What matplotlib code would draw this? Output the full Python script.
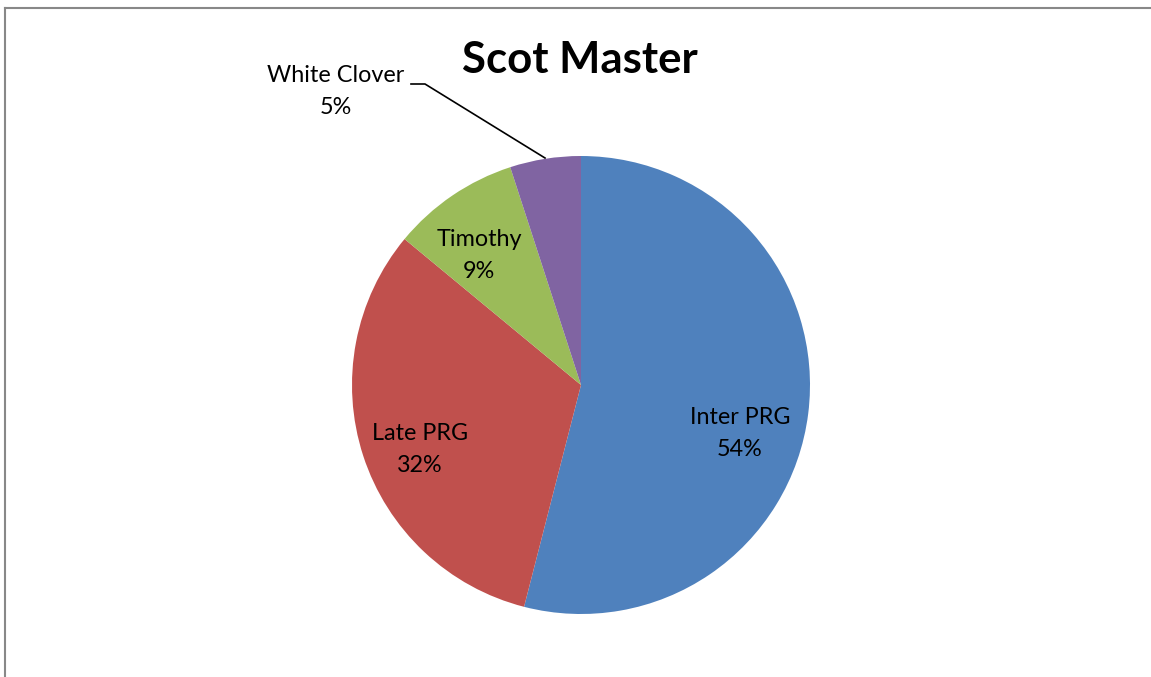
import matplotlib.pyplot as plt
from matplotlib.lines import Line2D

# chart data
categories = ['Inter PRG', 'Late PRG', 'Timothy', 'White Clover']
shares = [54, 32, 9, 5]
colors = ['#4F81BD', '#C0504D', '#9BBB59', '#8064A2']

W, H = 1151, 677
fig = plt.figure(figsize=(W / 100, H / 100), dpi=100)
ax = fig.add_axes([0, 0, 1, 1])

# pie centred in pixel coords (y measured from the bottom)
cx, cy, r = 581, H - 385, 229
ax.pie(shares, colors=colors, startangle=90, counterclock=False,
       center=(cx, cy), radius=r, frame=True,
       wedgeprops=dict(linewidth=0))
ax.set_xlim(0, W)
ax.set_ylim(0, H)
ax.set_aspect('equal')
ax.axis('off')

font = 'Lato'
fs = 16.8

# label positions (pixels from top-left): name line, percent line below
label_pos = {
    'Inter PRG': (740, 417),
    'Late PRG': (420, 433),
    'Timothy': (479, 240),
    'White Clover': (336, 76),
}
for name, val in zip(categories, shares):
    x, y = label_pos[name]
    ax.text(x, H - y, name, ha='center', va='center',
            fontsize=fs, family=font, color='black')
    ax.text(x, H - y - 32, f'{val}%', ha='center', va='center',
            fontsize=fs, family=font, color='black')

# leader line for White Clover
ax.plot([411, 425, 545], [H - 84, H - 84, H - 158], color='black', lw=1.2)

ax.text(580, H - 60, 'Scot Master', ha='center', va='center',
        fontsize=31.5, fontweight='bold', family=font)

# chart frame (left and top edges visible)
fig.lines.append(Line2D([4.5 / W, 4.5 / W], [0, 1 - 8 / H], transform=fig.transFigure,
                        color='#888888', lw=1.5))
fig.lines.append(Line2D([4.5 / W, 1], [1 - 8 / H, 1 - 8 / H], transform=fig.transFigure,
                        color='#888888', lw=1.5))

fig.savefig('out.png', dpi=100)
